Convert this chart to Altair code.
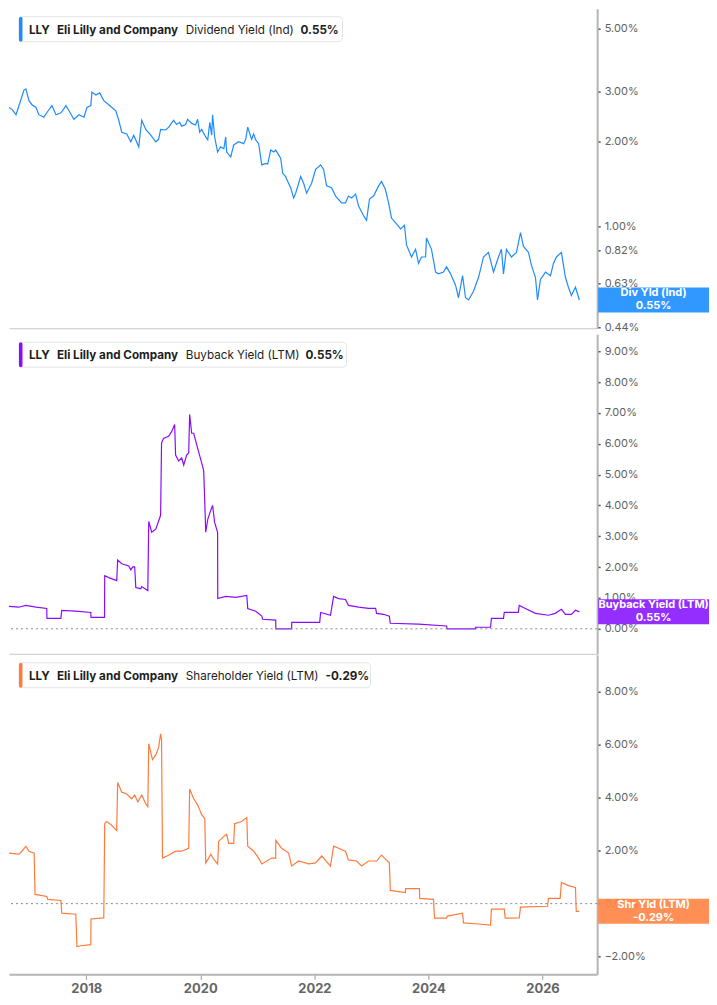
"""
plot.py

LLY yield panels: dividend, buyback and shareholder yield on one time axis.
"""

import pandas as pd
import altair as alt

FONT = "Inter"

# ---------------------------------------------------------------------------
# Data (percent)
# ---------------------------------------------------------------------------
div_dates = [
    "2016-08-24", "2016-09-12", "2016-10-08", "2016-11-08", "2016-11-28", "2016-12-10",
    "2016-12-30", "2017-01-18", "2017-02-13", "2017-03-03", "2017-04-04", "2017-04-23",
    "2017-05-26", "2017-06-21", "2017-07-23", "2017-08-24", "2017-09-12", "2017-10-14",
    "2017-11-15", "2017-12-17", "2018-01-05", "2018-01-30", "2018-02-06", "2018-03-03",
    "2018-03-28", "2018-04-23", "2018-05-25", "2018-07-09", "2018-07-28", "2018-08-16",
    "2018-09-17", "2018-10-13", "2018-11-01", "2018-12-03", "2018-12-22", "2019-01-17",
    "2019-02-18", "2019-03-22",
    "2019-04-09", "2019-04-22", "2019-05-25", "2019-06-13", "2019-07-14", "2019-08-03",
    "2019-08-22", "2019-09-04", "2019-09-29", "2019-10-12", "2019-11-07", "2019-12-02",
    "2019-12-15", "2019-12-28", "2020-01-10", "2020-02-05", "2020-02-18", "2020-03-02",
    "2020-03-14", "2020-03-20", "2020-04-02", "2020-04-21", "2020-05-10", "2020-05-31",
    "2020-06-12", "2020-06-18", "2020-07-14", "2020-08-02", "2020-09-03", "2020-10-05",
    "2020-10-18", "2020-10-31", "2020-11-25", "2020-12-08", "2020-12-21", "2021-01-09",
    "2021-01-29", "2021-02-23", "2021-03-08", "2021-03-27", "2021-04-16", "2021-04-28",
    "2021-05-30", "2021-06-12", "2021-07-01", "2021-07-07", "2021-08-02", "2021-08-21",
    "2021-09-03", "2021-10-05", "2021-10-24", "2021-11-12", "2021-12-14", "2022-01-09",
    "2022-02-10", "2022-03-01", "2022-03-20", "2022-04-21", "2022-05-17", "2022-06-24",
    "2022-07-19", "2022-08-07", "2022-08-27", "2022-09-22", "2022-10-11", "2022-11-12",
    "2022-12-01", "2022-12-20", "2023-01-15", "2023-02-16", "2023-03-07", "2023-04-01",
    "2023-04-21", "2023-05-10", "2023-06-05",
    "2023-06-11", "2023-07-07", "2023-08-01", "2023-08-14", "2023-09-15", "2023-10-11",
    "2023-10-30", "2023-11-18", "2023-12-14", "2023-12-20", "2024-01-21", "2024-02-16",
    "2024-03-06", "2024-04-07", "2024-04-26", "2024-05-22", "2024-06-23", "2024-07-12",
    "2024-08-07", "2024-08-26", "2024-09-14", "2024-10-16", "2024-11-17", "2024-12-19",
    "2025-01-20", "2025-02-21", "2025-03-25", "2025-04-13", "2025-04-26", "2025-05-15",
    "2025-06-16", "2025-07-18", "2025-08-13", "2025-09-01", "2025-10-03", "2025-10-22",
    "2025-11-17", "2025-11-30", "2025-12-19", "2026-01-20", "2026-02-21", "2026-03-12",
    "2026-03-31", "2026-05-02", "2026-05-28", "2026-06-16", "2026-07-05", "2026-07-31",
    "2026-08-25",
]
div_values = [
    2.63, 2.59, 2.48, 2.80, 3.03, 3.06,
    2.78, 2.69, 2.63, 2.48, 2.43, 2.52,
    2.67, 2.48, 2.52, 2.67, 2.56, 2.39,
    2.48, 2.43, 2.63, 2.67, 2.98, 2.91,
    2.96, 2.78, 2.69, 2.56, 2.37, 2.15,
    2.12, 1.99, 2.10, 1.91, 2.37, 2.20,
    2.10, 1.99,
    2.03, 2.20, 2.19, 2.24, 2.37, 2.29,
    2.33, 2.26, 2.29, 2.39, 2.31, 2.28,
    2.39, 2.15, 2.20, 2.07, 2.02, 2.33,
    2.10, 2.48, 2.07, 1.83, 1.91, 1.88,
    2.07, 1.83, 1.76, 1.94, 1.99, 1.96,
    2.03, 2.24, 2.03, 2.12, 2.02, 1.96,
    1.65, 1.67, 1.66, 1.86, 1.83, 1.86,
    1.74, 1.54, 1.50, 1.47, 1.37, 1.26,
    1.31, 1.50, 1.42, 1.31, 1.42, 1.59,
    1.65, 1.59, 1.39, 1.37, 1.28, 1.21,
    1.21, 1.28, 1.26, 1.30, 1.18, 1.09,
    1.05, 1.25, 1.28, 1.39, 1.44, 1.35,
    1.21, 1.07, 1.03,
    1.02, 0.98, 1.01, 0.86, 0.78, 0.83,
    0.74, 0.78, 0.78, 0.91, 0.83, 0.69,
    0.68, 0.69, 0.72, 0.68, 0.62, 0.56,
    0.67, 0.56, 0.55, 0.59, 0.66, 0.78,
    0.81, 0.69, 0.78, 0.83, 0.68, 0.83,
    0.78, 0.81, 0.95, 0.85, 0.81, 0.73,
    0.66, 0.55, 0.65, 0.69, 0.67, 0.74,
    0.78, 0.81, 0.66, 0.61, 0.57, 0.61,
    0.55,
]

buyback_dates = [
    "2016-08-24", "2016-10-26", "2016-12-10", "2017-02-13", "2017-04-23", "2017-04-24",
    "2017-07-22", "2017-07-28", "2017-10-26", "2018-01-30", "2018-01-31", "2018-04-28",
    "2018-04-29", "2018-05-25", "2018-07-15", "2018-07-21", "2018-08-16", "2018-09-30",
    "2018-10-13", "2018-10-26", "2018-11-07", "2018-11-14", "2018-12-16", "2018-12-22",
    "2019-01-30", "2019-02-05", "2019-02-24", "2019-03-22", "2019-04-22", "2019-04-28",
    "2019-05-10", "2019-06-12", "2019-07-02", "2019-07-21", "2019-07-27", "2019-08-16",
    "2019-09-04", "2019-09-17", "2019-10-06", "2019-10-19", "2019-10-25", "2019-11-07",
    "2019-11-20", "2019-12-15", "2020-01-10", "2020-01-23", "2020-01-30", "2020-02-05",
    "2020-02-18", "2020-03-08", "2020-03-20", "2020-04-02", "2020-04-21", "2020-04-22",
    "2020-06-11", "2020-08-15", "2020-10-25", "2020-10-31", "2020-12-21", "2021-01-29",
    "2021-02-04", "2021-04-28", "2021-04-29", "2021-08-08", "2021-08-09", "2021-11-25",
    "2022-02-04", "2022-02-10", "2022-04-14", "2022-05-04", "2022-06-05", "2022-07-19",
    "2022-08-07", "2022-10-11", "2022-12-14", "2023-01-28", "2023-02-03", "2023-03-20",
    "2023-04-26", "2023-05-02", "2023-10-30", "2024-04-26", "2024-05-01", "2024-10-28",
    "2024-10-29", "2025-02-02", "2025-02-08", "2025-04-26", "2025-05-01", "2025-07-30",
    "2025-08-05", "2025-09-13", "2025-11-17", "2026-02-08", "2026-03-23", "2026-05-02",
    "2026-05-28", "2026-07-05", "2026-07-31", "2026-08-25",
]
buyback_values = [
    0.73, 0.70, 0.76, 0.70, 0.66, 0.34,
    0.34, 0.60, 0.57, 0.53, 0.37, 0.37,
    1.72, 1.66, 1.56, 2.23, 2.11, 2.04,
    1.91, 2.01, 2.01, 1.34, 1.30, 1.37,
    1.24, 3.48, 3.13, 3.23, 3.68, 6.02,
    6.17, 6.24, 6.40, 6.62, 5.63, 5.44,
    5.54, 5.31, 5.63, 5.70, 6.95, 6.34,
    6.34, 5.86, 5.38, 5.12, 4.09, 3.13,
    3.55, 3.84, 4.00, 3.45, 3.13, 0.98,
    1.05, 1.02, 1.08, 0.66, 0.57, 0.41,
    0.31, 0.28, 0.00, 0.00, 0.21, 0.21,
    0.21, 0.53, 0.44, 1.05, 0.98, 0.95,
    0.76, 0.70, 0.66, 0.66, 0.50, 0.47,
    0.41, 0.18, 0.15, 0.09, 0.00, 0.00,
    0.05, 0.05, 0.34, 0.34, 0.53, 0.53,
    0.76, 0.66, 0.50, 0.44, 0.50, 0.63,
    0.47, 0.47, 0.60, 0.55,
]

shr_dates = [
    "2016-08-24", "2016-10-26", "2016-11-15", "2016-12-10", "2016-12-30", "2017-02-01",
    "2017-02-07", "2017-04-23", "2017-04-29", "2017-07-22", "2017-07-28", "2017-10-26",
    "2017-11-02", "2017-11-28", "2018-01-30", "2018-01-31", "2018-04-23", "2018-04-29",
    "2018-05-11", "2018-06-07", "2018-07-15", "2018-07-21", "2018-08-16", "2018-09-17",
    "2018-10-19", "2018-11-07", "2018-11-27", "2018-12-22", "2019-01-17", "2019-01-30",
    "2019-02-05", "2019-03-01", "2019-03-22", "2019-04-09", "2019-04-22", "2019-04-28",
    "2019-05-04", "2019-06-12", "2019-07-27", "2019-09-04", "2019-10-19", "2019-10-25",
    "2019-11-20", "2019-12-15", "2020-01-10", "2020-01-30", "2020-02-05", "2020-02-24",
    "2020-03-08", "2020-03-27", "2020-04-21", "2020-04-28", "2020-05-31", "2020-06-18",
    "2020-07-01", "2020-08-02", "2020-08-08", "2020-09-22", "2020-10-25", "2020-10-31",
    "2020-12-08", "2021-01-09", "2021-01-29", "2021-04-02", "2021-04-28", "2021-04-29",
    "2021-06-05", "2021-07-20", "2021-08-08", "2021-09-22", "2021-11-25", "2022-01-09",
    "2022-02-17", "2022-04-14", "2022-05-04", "2022-06-05", "2022-07-19", "2022-08-07",
    "2022-09-28", "2022-10-30", "2022-12-14", "2023-02-03", "2023-03-07", "2023-04-01",
    "2023-04-26", "2023-05-02", "2023-08-07", "2023-08-08", "2023-11-05", "2023-11-06",
    "2024-02-03", "2024-02-09", "2024-04-26", "2024-05-01", "2024-08-07", "2024-08-13",
    "2024-11-17", "2025-02-02", "2025-02-08", "2025-05-01", "2025-05-07", "2025-08-05",
    "2025-08-13", "2026-02-02", "2026-02-08", "2026-04-24", "2026-05-02", "2026-06-16",
    "2026-07-31", "2026-08-05", "2026-08-25",
]
shr_values = [
    1.91, 1.87, 1.98, 2.17, 1.98, 1.91,
    0.35, 0.27, 0.16, 0.12, -0.36, -0.40,
    -1.62, -1.59, -1.55, -0.58, -0.54, 3.02,
    3.10, 2.99, 2.76, 4.58, 4.21, 4.14,
    3.96, 4.10, 3.84, 4.10, 3.77, 3.66,
    6.04, 5.44, 5.62, 5.89, 6.41, 6.18,
    1.72, 1.83, 1.98, 1.98, 2.09, 4.33,
    3.96, 3.73, 3.36, 3.21, 1.54, 1.72,
    1.87, 1.68, 1.50, 2.35, 2.54, 2.62,
    2.28, 2.28, 3.02, 3.10, 3.25, 2.17,
    1.98, 1.72, 1.50, 1.72, 1.72, 2.39,
    2.09, 1.91, 1.42, 1.61, 1.50, 1.54,
    1.80, 1.42, 2.17, 2.09, 1.98, 1.65,
    1.61, 1.42, 1.61, 1.61, 1.83, 1.68,
    1.54, 0.50, 0.42, 0.57, 0.57, 0.20,
    0.16, -0.55, -0.55, -0.47, -0.36, -0.73,
    -0.77, -0.81, -0.21, -0.21, -0.55, -0.54,
    -0.13, -0.10, 0.20, 0.20, 0.80, 0.68,
    0.61, -0.29, -0.29,
]

assert len(div_dates) == len(div_values)
assert len(buyback_dates) == len(buyback_values)
assert len(shr_dates) == len(shr_values)

x_domain = ["2016-08-24", "2026-12-17"]
tick_years = [2018, 2020, 2022, 2024, 2026]
div_ticks = [5.0, 3.0, 2.0, 1.0, 0.82, 0.63, 0.44]
buyback_ticks = [0, 1, 2, 3, 4, 5, 6, 7, 8, 9]
shr_ticks = [-2, 0, 2, 4, 6, 8]

PLOT_W = 589
PLOT_H = 320
BADGE_X0 = PLOT_W + 1
BADGE_X1 = 701


def x_encoding(show_labels: bool) -> alt.X:
    """Shared time axis; only the bottom panel shows year labels."""
    if show_labels:
        axis = alt.Axis(
            title=None, grid=False, format="%Y", labelFlush=False,
            values=[alt.DateTime(year=y, month=1, date=1) for y in tick_years],
            labelFont=FONT, labelFontSize=13, labelFontWeight="bold",
            labelColor="#666666", labelPadding=3,
            tickColor="#9a9a9a", tickSize=5, tickWidth=1,
            domainColor="#b5b5b5", domainWidth=2,
        )
    else:
        axis = alt.Axis(
            title=None, grid=False, labels=False, ticks=False,
            domainColor="#c8c8c8", domainWidth=1,
        )
    return alt.X("date:T", scale=alt.Scale(domain=x_domain), axis=axis)


def build_panel(dates, values, color, badge_color, metric, badge_label,
                y_scale, y_ticks, box_right, value_x, zero_line, show_dates):
    """One yield panel: line, optional zero rule, header box and end badge."""
    df = pd.DataFrame({"date": dates, "value": values})
    last_txt = "%.2f%%" % values[-1]
    last = df.tail(1).assign(badge=badge_label, last=last_txt)

    y_axis = alt.Axis(
        orient="right", title=None, grid=False, values=y_ticks,
        labelExpr="format(datum.value, '.2f') + '%'",
        labelFont=FONT, labelFontSize=11, labelColor="#5f5f5f", labelPadding=4,
        labelOverlap=False, tickColor="#555555", tickSize=3, tickWidth=1.5,
        domainColor="#b5b5b5", domainWidth=2,
    )
    y_enc = alt.Y("value:Q", scale=y_scale, axis=y_axis)

    line = (
        alt.Chart(df)
        .mark_line(color=color, strokeWidth=1.2, clip=True)
        .encode(x=x_encoding(show_dates), y=y_enc)
    )
    layers = [line]

    if zero_line:
        layers.append(
            alt.Chart(pd.DataFrame({"value": [0]}))
            .mark_rule(color="#8a8a8a", strokeDash=[2, 3], strokeWidth=1)
            .encode(y=y_enc)
        )

    one = pd.DataFrame({"k": [0]})
    box = (
        alt.Chart(one)
        .mark_rect(fill="white", stroke="#e4e4e4", strokeWidth=1, cornerRadius=4)
        .encode(x=alt.value(10), x2=alt.value(box_right), y=alt.value(8), y2=alt.value(33))
    )
    bar = (
        alt.Chart(one)
        .mark_rect(fill=color, cornerRadius=2)
        .encode(x=alt.value(10), x2=alt.value(13.5), y=alt.value(8), y2=alt.value(33))
    )
    layers += [box, bar]

    header = [
        ("LLY", 20, "bold"),
        ("Eli Lilly and Company", 48, "bold"),
        (metric, 177, "normal"),
        (last_txt, value_x, "bold"),
    ]
    for txt, xpos, weight in header:
        layers.append(
            alt.Chart(one)
            .mark_text(text=txt, align="left", baseline="middle", font=FONT,
                       fontSize=11.7, fontWeight=weight, color="#1e1e1e")
            .encode(x=alt.value(xpos), y=alt.value(21))
        )

    badge = (
        alt.Chart(last)
        .mark_rect(color=badge_color, height=25, opacity=0.92)
        .encode(x=alt.value(BADGE_X0), x2=alt.value(BADGE_X1), y=y_enc)
    )
    badge_mid = (BADGE_X0 + BADGE_X1) / 2
    badge_top = (
        alt.Chart(last)
        .mark_text(align="center", baseline="middle", dy=-6.5, font=FONT,
                   fontSize=11, fontWeight="bold", color="white")
        .encode(x=alt.value(badge_mid), y=y_enc, text="badge:N")
    )
    badge_bot = (
        alt.Chart(last)
        .mark_text(align="center", baseline="middle", dy=6.5, font=FONT,
                   fontSize=11, fontWeight="bold", color="white")
        .encode(x=alt.value(badge_mid), y=y_enc, text="last:N")
    )
    layers += [badge, badge_top, badge_bot]

    return alt.layer(*layers).properties(width=PLOT_W, height=PLOT_H)


top = build_panel(
    div_dates, div_values, "#1f8bff", "#1e8fff", "Dividend Yield (Ind)", "Div Yld (Ind)",
    alt.Scale(type="log", domain=[0.437, 5.87], nice=False), div_ticks, 334, 292, False, False,
)
mid = build_panel(
    buyback_dates, buyback_values, "#8a0cff", "#8b1cff", "Buyback Yield (LTM)",
    "Buyback Yield (LTM)", alt.Scale(domain=[-0.81, 9.55], nice=False), buyback_ticks,
    338, 297, True, False,
)
bot = build_panel(
    shr_dates, shr_values, "#ff7b3a", "#ff8546", "Shareholder Yield (LTM)", "Shr Yld (LTM)",
    alt.Scale(domain=[-2.67, 9.4], nice=False), shr_ticks, 362, 317, True, True,
)

chart = (
    alt.vconcat(top, mid, bot, spacing=1)
    .properties(padding={"left": 0, "top": 0, "right": 0, "bottom": 0})
    .configure_view(strokeOpacity=0)
)

chart.save("out.html", embed_options={"renderer": "svg", "actions": False})
